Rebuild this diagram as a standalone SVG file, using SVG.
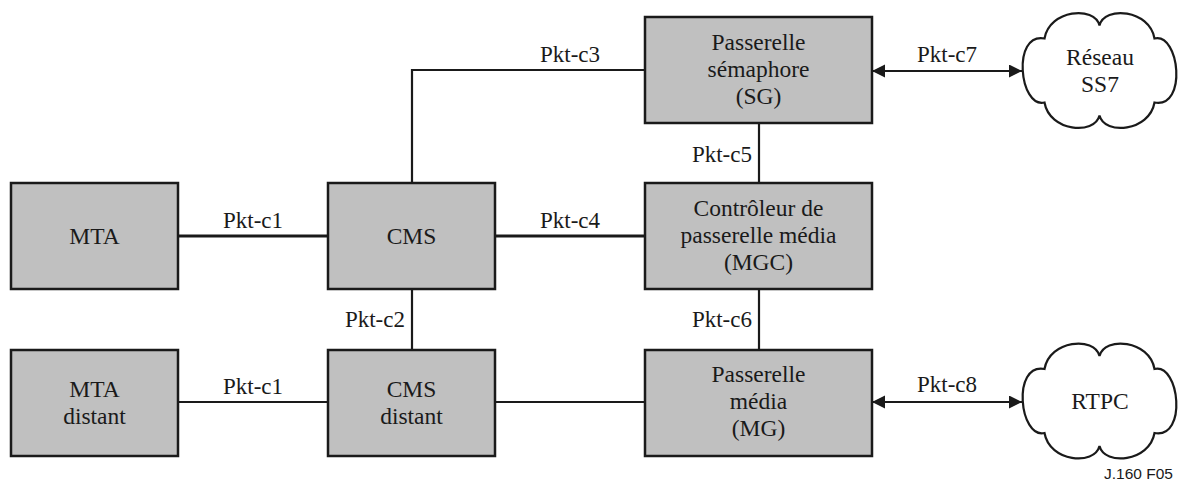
<svg xmlns="http://www.w3.org/2000/svg" width="1179" height="482" viewBox="0 0 1179 482">
<style>
.box{fill:#c0c0c0;stroke:#1a1a1a;stroke-width:2.5}
.cloud{fill:#ffffff;stroke:#1a1a1a;stroke-width:2.2}
text{font-family:"Liberation Serif","Times New Roman",Times,"DejaVu Serif",serif;fill:#1a1a1a}
.t{font-size:23.5px;text-anchor:middle}
.lbl{font-size:23px;text-anchor:middle}
.end{text-anchor:end}
.c{fill:none;stroke:#1a1a1a;stroke-width:2.2}
.thick{stroke-width:3.2}
.arr{marker-start:url(#ah);marker-end:url(#ah)}
text.tag{font-family:"Liberation Sans",Arial,sans-serif;font-size:15.5px;text-anchor:end}
</style>
<defs>
<marker id="ah" markerUnits="userSpaceOnUse" markerWidth="14" markerHeight="14" refX="13" refY="6.5" orient="auto-start-reverse">
<path d="M0,0 L13,6.5 L0,13 Z" fill="#1a1a1a"/>
</marker>
<path id="cloudshape" d="M -55 -32 C -50 -61, -5 -65, 0 -45 C 5 -65, 50 -61, 55 -32 C 80 -38, 88 38, 55 32 C 50 61, 5 65, 0 45 C -5 65, -50 61, -55 32 C -80 38, -88 -38, -55 -32 Z"/>
</defs>

<g id="connectors">
<line class="c thick" x1="178" y1="236" x2="328" y2="236"/>
<line class="c thick" x1="495" y1="236" x2="645" y2="236"/>
<line class="c" x1="412" y1="289" x2="412" y2="350"/>
<line class="c" x1="178" y1="402" x2="328" y2="402"/>
<line class="c" x1="495" y1="402" x2="645" y2="402"/>
<polyline class="c" points="412,183 412,70 645,70"/>
<line class="c" x1="759" y1="123" x2="759" y2="183"/>
<line class="c" x1="759" y1="289" x2="759" y2="350"/>
<line class="c arr" x1="872" y1="71" x2="1022" y2="71"/>
<line class="c arr" x1="872" y1="402" x2="1022" y2="402"/>
<text class="lbl" x="253" y="228">Pkt-c1</text>
<text class="lbl" x="253" y="394">Pkt-c1</text>
<text class="lbl end" x="405" y="327">Pkt-c2</text>
<text class="lbl" x="570" y="62">Pkt-c3</text>
<text class="lbl" x="570" y="228">Pkt-c4</text>
<text class="lbl end" x="752" y="162">Pkt-c5</text>
<text class="lbl end" x="752" y="327">Pkt-c6</text>
<text class="lbl" x="947" y="62">Pkt-c7</text>
<text class="lbl" x="947" y="392">Pkt-c8</text>
</g>

<g id="mta">
<rect class="box" x="11" y="183" width="167" height="106"/>
<text class="t" x="94.5" y="244">MTA</text>
</g>
<g id="cms">
<rect class="box" x="328" y="183" width="167" height="106"/>
<text class="t" x="411.5" y="244">CMS</text>
</g>
<g id="mta-distant">
<rect class="box" x="11" y="350" width="167" height="106"/>
<text class="t" x="94.5" y="397">MTA</text>
<text class="t" x="94.5" y="424">distant</text>
</g>
<g id="cms-distant">
<rect class="box" x="328" y="350" width="167" height="106"/>
<text class="t" x="411.5" y="397">CMS</text>
<text class="t" x="411.5" y="424">distant</text>
</g>
<g id="sg">
<rect class="box" x="645" y="17" width="227" height="106"/>
<text class="t" x="758.5" y="49.5">Passerelle</text>
<text class="t" x="758.5" y="76.5">sémaphore</text>
<text class="t" x="758.5" y="103.5">(SG)</text>
</g>
<g id="mgc">
<rect class="box" x="645" y="183" width="227" height="106"/>
<text class="t" x="758.5" y="215.5">Contrôleur de</text>
<text class="t" x="758.5" y="242.5">passerelle média</text>
<text class="t" x="758.5" y="269.5">(MGC)</text>
</g>
<g id="mg">
<rect class="box" x="645" y="350" width="227" height="106"/>
<text class="t" x="758.5" y="382">Passerelle</text>
<text class="t" x="758.5" y="409">média</text>
<text class="t" x="758.5" y="436">(MG)</text>
</g>
<g id="ss7">
<use href="#cloudshape" class="cloud" transform="translate(1099.5,70.5)"/>
<text class="t" x="1100" y="65">Réseau</text>
<text class="t" x="1100" y="92">SS7</text>
</g>
<g id="rtpc">
<use href="#cloudshape" class="cloud" transform="translate(1099.5,401)"/>
<text class="t" x="1100" y="409">RTPC</text>
</g>
<text class="tag" x="1173" y="479">J.160  F05</text>
</svg>
